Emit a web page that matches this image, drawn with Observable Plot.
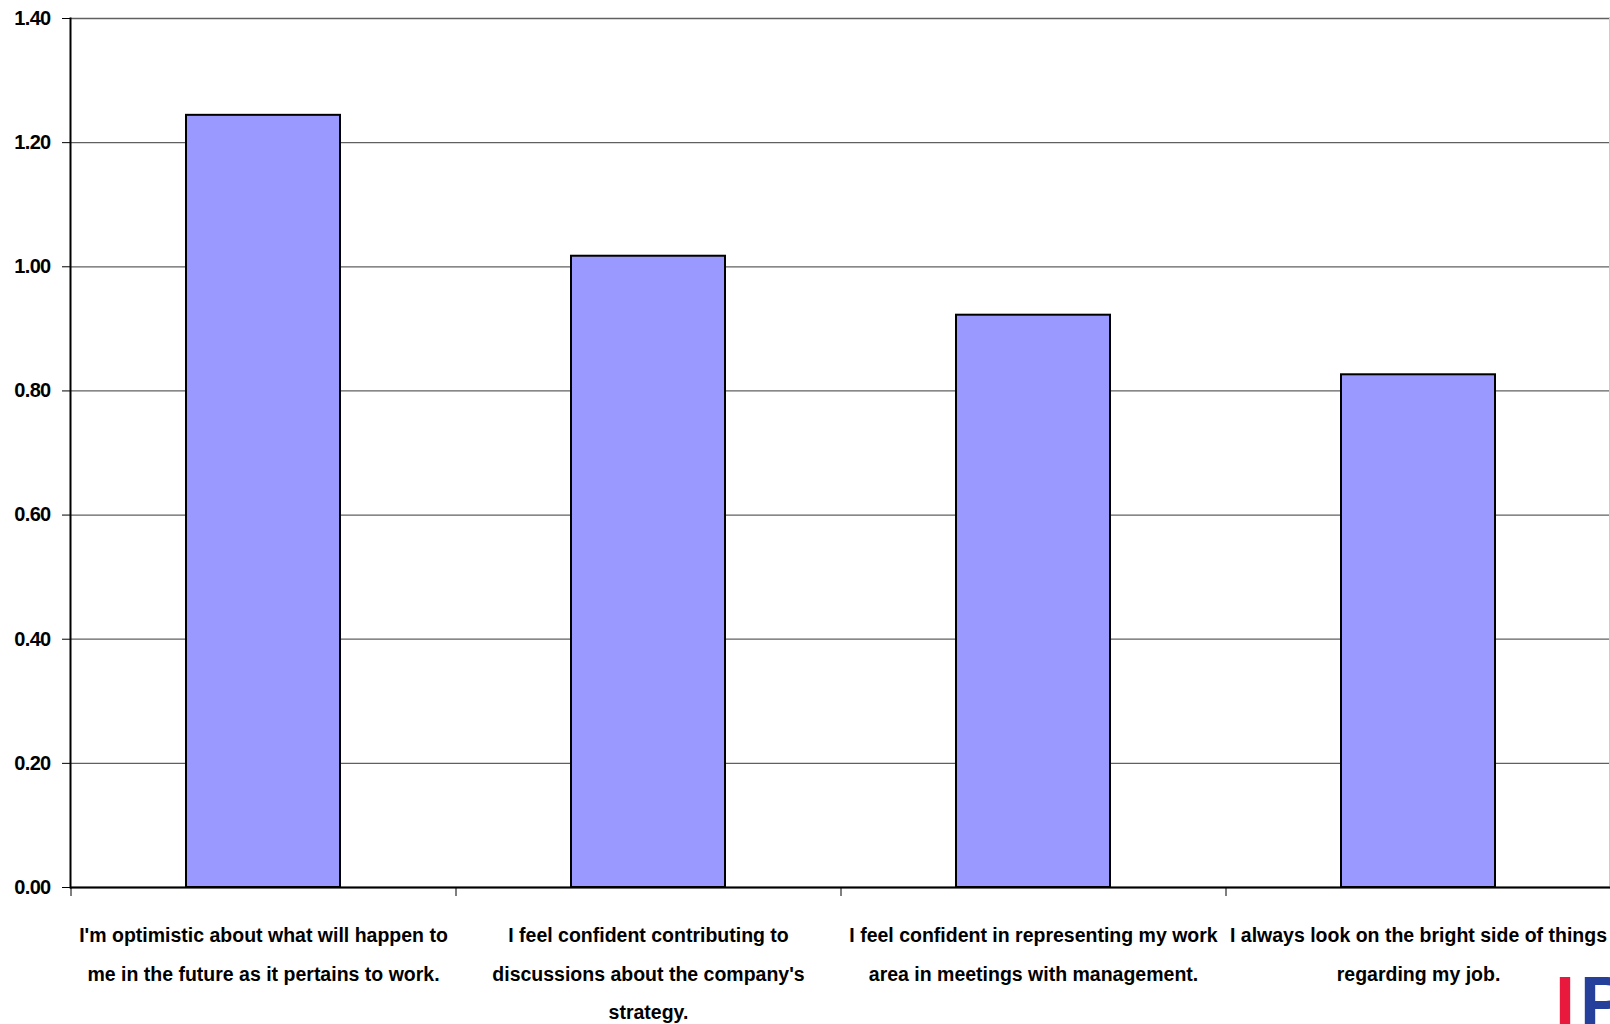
<!DOCTYPE html>
<html>
<head>
<meta charset="utf-8">
<script src="https://cdn.jsdelivr.net/npm/d3@7"></script>
<script src="https://cdn.jsdelivr.net/npm/@observablehq/plot@0.6"></script>
<style>
  html, body { margin: 0; padding: 0; background: #fff; overflow: hidden; }
  #wrap { position: relative; width: 1610px; height: 1024px; }
  #logo { position: absolute; left: 1555px; top: 966px; font-family: "Liberation Sans", Arial, sans-serif;
          font-weight: bold; font-size: 72px; line-height: 1; white-space: nowrap; letter-spacing: 5px; }
  #logo .r { color: #e8193c; }
  #logo .b { color: #25409a; }
  #chart svg g[aria-label="y-axis tick label"] text { letter-spacing: -0.7px; }
</style>
</head>
<body>
<div id="wrap"><div id="chart"></div><div id="logo"><span class="r">I</span><span class="b">P</span></div></div>
<script>
const categories = [
  "I'm optimistic about what will happen to me in the future as it pertains to work.",
  "I feel confident contributing to discussions about the company's strategy.",
  "I feel confident in representing my work area in meetings with management.",
  "I always look on the bright side of things regarding my job."
];
const values = [1.244, 1.017, 0.922, 0.826];
const tickLabels = [
  "I'm optimistic about what will happen to\nme in the future as it pertains to work.",
  "I feel confident contributing to\ndiscussions about the company's\nstrategy.",
  "I feel confident in representing my work\narea in meetings with management.",
  "I always look on the bright side of things\nregarding my job."
];
const yTicks = [0, 0.2, 0.4, 0.6, 0.8, 1.0, 1.2, 1.4];

const data = categories.map((c, i) => ({category: c, value: values[i]}));
const labelOf = new Map(categories.map((c, i) => [c, tickLabels[i]]));

const W = 1610, H = 1024, ML = 70, MR = 0, MT = 18, MB = 137;
const step = (W - ML - MR) / categories.length;
const font = "'Liberation Sans', Arial, sans-serif";

const chart = Plot.plot({
  width: W, height: H,
  marginLeft: ML, marginRight: MR, marginTop: MT, marginBottom: MB,
  style: {fontFamily: font, fontWeight: "bold", fontSize: "19.5px", color: "#000", background: "#fff"},
  x: {type: "band", domain: categories, paddingInner: 0.6, paddingOuter: 0.3, label: null},
  y: {domain: [0, 1.4], label: null},
  marks: [
    Plot.gridY(yTicks, {stroke: "#606060", strokeOpacity: 1, strokeWidth: 1.3}),
    Plot.frame({anchor: "right", stroke: "#cccccc", strokeWidth: 3}),
    Plot.barY(data, {x: "category", y: "value", fill: "#9999ff", stroke: "#000", strokeWidth: 2}),
    Plot.ruleY([0], {stroke: "#000", strokeWidth: 2}),
    Plot.axisY(yTicks, {tickFormat: d3.format(".2f"), tickSize: 8, tickPadding: 12, stroke: "#000",
      fontSize: 20, fontWeight: "bold", strokeWidth: 1}),
    Plot.frame({anchor: "left", stroke: "#000", strokeWidth: 2}),
    Plot.axisX({tickSize: 9, text: null, dx: -step / 2, stroke: "#000", strokeWidth: 1}),
    Plot.axisX({tickSize: 0, tickPadding: 28, tickFormat: d => labelOf.get(d), lineHeight: 1.95,
      fontSize: 19.5, fontWeight: "bold"})
  ]
});
document.getElementById("chart").appendChild(chart);
</script>
</body>
</html>
